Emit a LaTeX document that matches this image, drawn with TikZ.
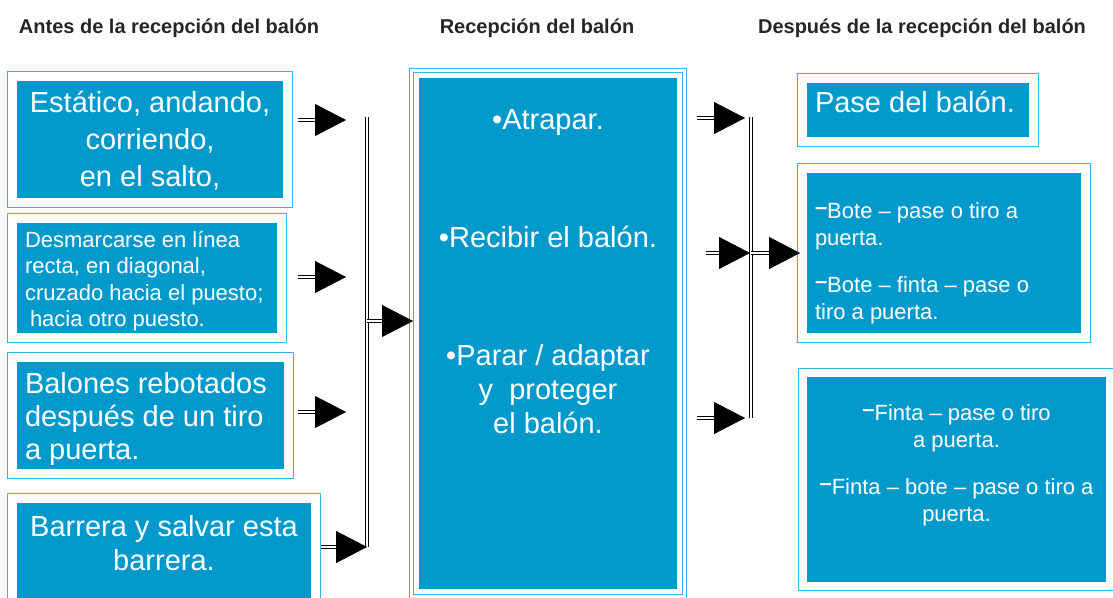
\documentclass[tikz,border=0pt]{standalone}
\usepackage{fontspec}
\setmainfont{Liberation Sans}
\usetikzlibrary{arrows.meta,positioning,fit}

\begin{document}
\begin{tikzpicture}[x=1pt,y=-1pt]
  % Local definitions
  \def\dsh{\raisebox{.2em}{\textbf{–}}}

  % Colors
  \definecolor{boxcolor}{RGB}{0,153,204}
  \definecolor{framecolor}{RGB}{60,178,224}
  \colorlet{headcolor}{black!85}

  % Styles
  \tikzstyle{bluebox}=[fill=boxcolor,inner sep=0pt]
  \tikzstyle{boxframe}=[draw=framecolor,line width=1pt,inner sep=9pt]
  \tikzstyle{big text}=[text=white,inner sep=0pt,font=\fontsize{29}{34}\selectfont]
  \tikzstyle{small text}=[text=white,inner sep=0pt,font=\fontsize{22}{26.5}\selectfont]
  \tikzstyle{heading}=[text=headcolor,font=\fontsize{20}{24}\selectfont\bfseries]
  \tikzstyle{shaft}=[double,double distance=2pt,line width=1.1pt]
  \tikzstyle{tip head}=[-{Triangle[length=31pt,width=32pt]},line width=0.4pt]

  \useasboundingbox (0,0) rectangle (1113,597);
  \clip (0,0) rectangle (1113,597);

  % Headings
  \node[heading] (h1) at (169,28) {Antes de la recepción del balón};
  \node[heading] (h2) at (537,28) {Recepción del balón};
  \node[heading] (h3) at (922,28) {Después de la recepción del balón};

  % Boxes
  \node[bluebox,minimum width=266,minimum height=117] (b1) at (150,139.5) {};
  \node[bluebox,minimum width=260,minimum height=110] (b2) at (147,278) {};
  \node[bluebox,minimum width=267,minimum height=107] (b3) at (150.5,415.5) {};
  \node[bluebox,minimum width=294,minimum height=117] (b4) at (164,561.5) {};
  \node[bluebox,minimum width=258,minimum height=511] (c) at (548,333.5) {};
  \node[bluebox,minimum width=222,minimum height=54] (r1) at (918,110) {};
  \node[bluebox,minimum width=274,minimum height=160] (r2) at (944,253) {};
  \node[bluebox,minimum width=299,minimum height=205] (r3) at (956.5,479.5) {};

  \foreach \b in {b1,b2,b3,b4,r1,r2}
    \node[boxframe,fit=(\b)] (f\b) {};
  \node[boxframe,fit=(r3),inner sep=8pt] (fr3) {};
  \node[boxframe,fit=(c),inner sep=5pt] (fc1) {};
  \node[boxframe,fit=(c),inner sep=9pt] (fc2) {};

  % Texts
  \node[big text,align=center,font=\fontsize{29}{37}\selectfont,
        below=10pt of b1.north] (t1)
    {Estático, andando,\\corriendo,\\en el salto,};
  \node[small text,align=left,below right=8pt and 8pt of b2.north west] (t2)
    {Desmarcarse en línea\\recta, en diagonal,\\cruzado hacia el puesto;\\\hspace*{5pt}hacia otro puesto.};
  \node[big text,align=left,font=\fontsize{29}{33}\selectfont,
        below right=10pt and 8pt of b3.north west] (t3)
    {Balones rebotados\\después de un tiro\\a puerta.};
  \node[big text,align=center,below=12pt of b4.north] (t4)
    {Barrera y salvar esta\\barrera.};
  \node[big text,align=center,below=32pt of c.north] (tc)
    {•Atrapar.\\[84pt]•Recibir el balón.\\[84pt]•Parar / adaptar\\y\ \ proteger\\el balón.};
  \node[big text,align=left,below right=8pt and 8pt of r1.north west] (tr1)
    {Pase del balón.};
  \node[small text,font=\fontsize{22}{27}\selectfont,align=left,
        below right=30pt and 8pt of r2.north west] (tr2)
    {\dsh Bote – pase o tiro a\\puerta.\\[20pt]\dsh Bote – finta – pase o\\tiro a puerta.};
  \node[small text,align=center,below=28pt of r3.north] (tr3)
    {\dsh Finta – pase o tiro\\a puerta.\\[21pt]\dsh Finta – bote – pase o tiro a\\puerta.};

  % Buses
  \coordinate (lbus top) at (367,117);
  \coordinate (lbus bot) at (367,547);
  \coordinate (rbus top) at (751,117);
  \coordinate (rbus bot) at (751,418);
  \draw[shaft] (lbus top) -- (lbus bot);
  \draw[shaft] (rbus top) -- (rbus bot);

  % Arrows
  \foreach \xs/\xt/\y [count=\i] in {298/346/120, 298/346/277, 298/346/412,
      321/367/547, 367/413/321, 697/745/118, 706/750/253, 697/745/418,
      751/800/253}
  {
    \coordinate (s\i) at (\xs,\y);
    \coordinate (e\i) at (\xt,\y);
    \draw[shaft] (s\i) -- ([xshift=-20pt]e\i);
    \draw[tip head] ([xshift=-31pt]e\i) -- (e\i);
  }
\end{tikzpicture}
\end{document}
